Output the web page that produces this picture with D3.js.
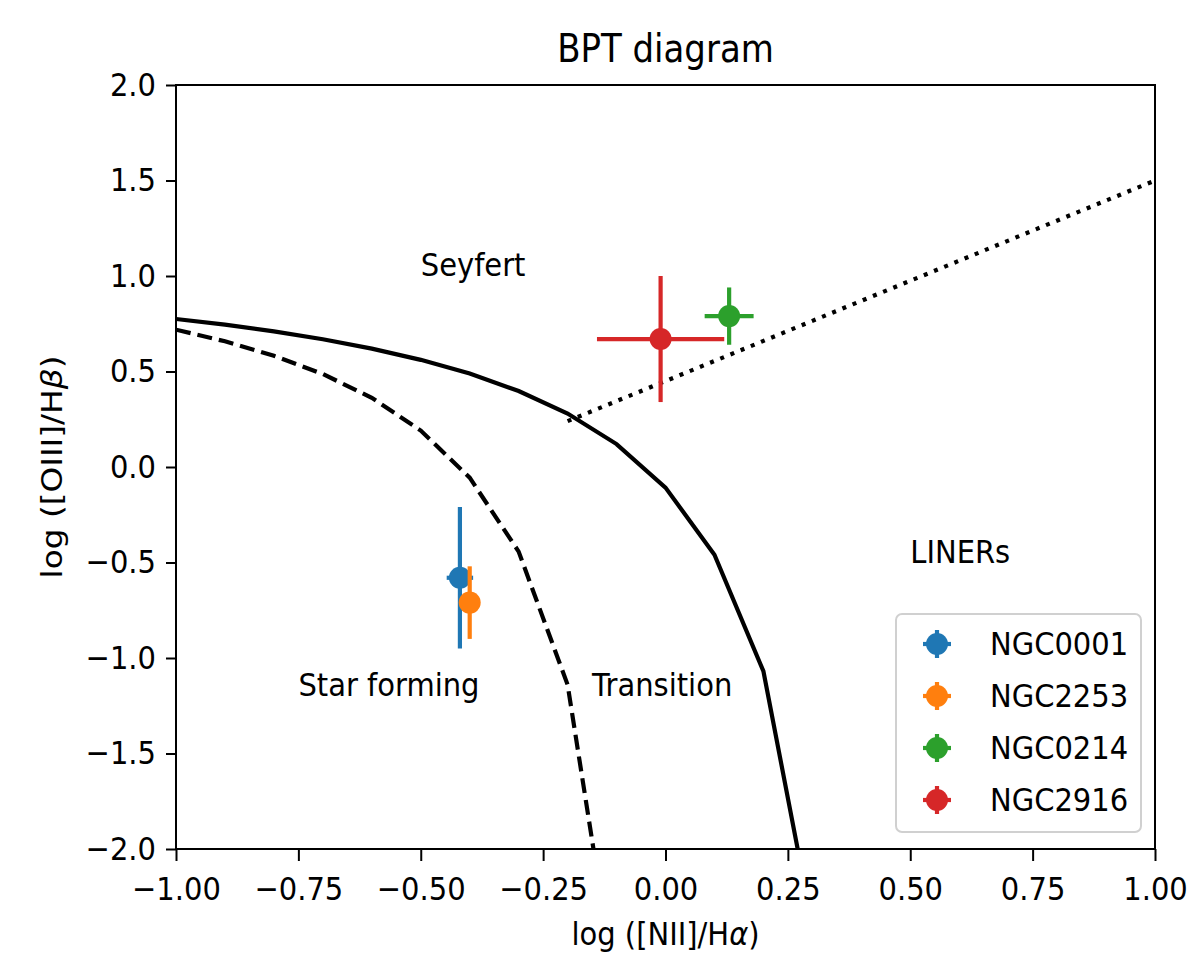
<!DOCTYPE html>
<html>
<head>
<meta charset="utf-8">
<script src="https://cdn.jsdelivr.net/npm/d3@7"></script>
<style>
  body { margin: 0; background: #fff; }
  text { font-family: "DejaVu Sans", sans-serif; fill: #000; }
</style>
</head>
<body>
<svg id="chart"></svg>
<script>
// demarcation lines, vertices
var kewleyX = [-1.0, -0.9, -0.8, -0.7, -0.6, -0.5, -0.4, -0.3, -0.2, -0.1, 0.0, 0.1, 0.2, 0.3];
var kewleyY = [0.775, 0.745, 0.71, 0.669, 0.62, 0.561, 0.489, 0.398, 0.28, 0.12, -0.108, -0.459, -1.069, -2.398];
var kauffX = [-1.0, -0.9, -0.8, -0.7, -0.6, -0.5, -0.4, -0.3, -0.2, -0.1];
var kauffY = [0.719, 0.658, 0.582, 0.487, 0.362, 0.191, -0.056, -0.443, -1.14, -2.767];
var seyLinerX = [-0.2, 1.0];
var seyLinerY = [0.24, 1.5];

// galaxies
var names = ["NGC0001", "NGC2253", "NGC0214", "NGC2916"];
var nii   = [-0.42, -0.40, 0.13, -0.01];
var niiErr = [0.027, 0.01, 0.05, 0.13];
var oiii  = [-0.58, -0.71, 0.79, 0.67];
var oiiiErr = [0.37, 0.19, 0.15, 0.33];
var colors = ["#1f77b4", "#ff7f0e", "#2ca02c", "#d62728"];

var xTicks = [-1.0, -0.75, -0.5, -0.25, 0.0, 0.25, 0.5, 0.75, 1.0];
var yTicks = [-2.0, -1.5, -1.0, -0.5, 0.0, 0.5, 1.0, 1.5, 2.0];

var regions = [
  {label: "Seyfert", x: -0.5, y: 1.0},
  {label: "LINERs", x: 0.5, y: -0.5},
  {label: "Star forming", x: -0.75, y: -1.2},
  {label: "Transition", x: -0.15, y: -1.2}
];

var width = 1197, height = 970;
var margin = {left: 176, right: 42, top: 85, bottom: 121};
var stretch = 1.13;   // the picture's text is a bit taller than it is wide
var fs = 29;

var svg = d3.select("#chart")
    .attr("width", width)
    .attr("height", height);

var x = d3.scaleLinear().domain([-1, 1]).range([margin.left, width - margin.right]);
var y = d3.scaleLinear().domain([-2, 2]).range([height - margin.bottom, margin.top]);

function fmtMinus(s) { return s.replace("-", "\u2212"); }
function place(px, py) { return "translate(" + px + "," + py + ") scale(1," + stretch + ")"; }

svg.append("clipPath").attr("id", "plotclip")
  .append("rect")
    .attr("x", x(-1)).attr("y", y(2))
    .attr("width", x(1) - x(-1)).attr("height", y(-2) - y(2));

var plot = svg.append("g").attr("clip-path", "url(#plotclip)");

var line = d3.line()
    .x(function(d) { return x(d[0]); })
    .y(function(d) { return y(d[1]); });

plot.append("path")
    .attr("d", line(d3.zip(kewleyX, kewleyY)))
    .attr("fill", "none").attr("stroke", "#000").attr("stroke-width", 4.2);

plot.append("path")
    .attr("d", line(d3.zip(kauffX, kauffY)))
    .attr("fill", "none").attr("stroke", "#000").attr("stroke-width", 4.2)
    .attr("stroke-dasharray", "15,7");

plot.append("path")
    .attr("d", line(d3.zip(seyLinerX, seyLinerY)))
    .attr("fill", "none").attr("stroke", "#000").attr("stroke-width", 4.2)
    .attr("stroke-dasharray", "4,7");

// error bars + points
names.forEach(function(n, i) {
  var g = plot.append("g");
  g.append("line")
    .attr("x1", x(nii[i] - niiErr[i])).attr("x2", x(nii[i] + niiErr[i]))
    .attr("y1", y(oiii[i])).attr("y2", y(oiii[i]))
    .attr("stroke", colors[i]).attr("stroke-width", 4.2);
  g.append("line")
    .attr("x1", x(nii[i])).attr("x2", x(nii[i]))
    .attr("y1", y(oiii[i] - oiiiErr[i])).attr("y2", y(oiii[i] + oiiiErr[i]))
    .attr("stroke", colors[i]).attr("stroke-width", 4.2);
  g.append("circle")
    .attr("cx", x(nii[i])).attr("cy", y(oiii[i])).attr("r", 11)
    .attr("fill", colors[i]);
});

// region labels
svg.selectAll(".region")
  .data(regions).enter()
  .append("text")
    .attr("class", "region")
    .attr("transform", function(d) { return place(x(d.x), y(d.y)); })
    .attr("font-size", fs)
    .text(function(d) { return d.label; });

// axes
var xAxis = svg.append("g")
    .attr("transform", "translate(0," + y(-2) + ")")
    .call(d3.axisBottom(x).tickValues(xTicks).tickSize(12).tickPadding(8)
      .tickFormat(function(d) { return fmtMinus(d3.format(".2f")(d)); }));
var yAxis = svg.append("g")
    .attr("transform", "translate(" + x(-1) + ",0)")
    .call(d3.axisLeft(y).tickValues(yTicks).tickSize(10).tickPadding(10)
      .tickFormat(function(d) { return fmtMinus(d3.format(".1f")(d)); }));
[xAxis, yAxis].forEach(function(a) {
  a.select(".domain").remove();
  a.selectAll(".tick line").attr("stroke", "#000").attr("stroke-width", 2);
  a.selectAll(".tick text").attr("font-size", fs)
    .attr("font-family", "DejaVu Sans, sans-serif").attr("fill", "#000");
});
xAxis.selectAll(".tick text").attr("y", 0).attr("transform", place(0, 28));
yAxis.selectAll(".tick text").attr("transform", "scale(1," + stretch + ")");

svg.append("rect")
    .attr("x", x(-1)).attr("y", y(2))
    .attr("width", x(1) - x(-1)).attr("height", y(-2) - y(2))
    .attr("fill", "none").attr("stroke", "#000").attr("stroke-width", 2);

// title and axis labels
svg.append("text")
    .attr("transform", place((x(-1) + x(1)) / 2, 62))
    .attr("text-anchor", "middle").attr("font-size", 34)
    .text("BPT diagram");

var xl = svg.append("text")
    .attr("transform", place((x(-1) + x(1)) / 2, 945))
    .attr("text-anchor", "middle").attr("font-size", fs);
xl.append("tspan").text("log ([NII]/H");
xl.append("tspan").attr("font-style", "italic").text("α");
xl.append("tspan").text(")");

var yl = svg.append("text")
    .attr("transform", "translate(62," + (y(-2) + y(2)) / 2 + ") rotate(-90) scale(" + stretch + ",1)")
    .attr("text-anchor", "middle").attr("font-size", fs);
yl.append("tspan").text("log ([OIII]/H");
yl.append("tspan").attr("font-style", "italic").text("β");
yl.append("tspan").text(")");

// legend
var lg = svg.append("g").attr("transform", "translate(896,614)");
lg.append("rect")
    .attr("width", 245).attr("height", 218).attr("rx", 6)
    .attr("fill", "#fff").attr("fill-opacity", 0.8)
    .attr("stroke", "#d0d0d0").attr("stroke-width", 2);
names.forEach(function(n, i) {
  var row = lg.append("g").attr("transform", "translate(41," + (30 + i * 52) + ")");
  row.append("line").attr("x1", -14).attr("x2", 14).attr("stroke", colors[i]).attr("stroke-width", 4.2);
  row.append("line").attr("y1", -14).attr("y2", 14).attr("stroke", colors[i]).attr("stroke-width", 4.2);
  row.append("circle").attr("r", 11).attr("fill", colors[i]);
  row.append("text").attr("transform", place(53, 11)).attr("font-size", fs).text(n);
});
</script>
</body>
</html>
